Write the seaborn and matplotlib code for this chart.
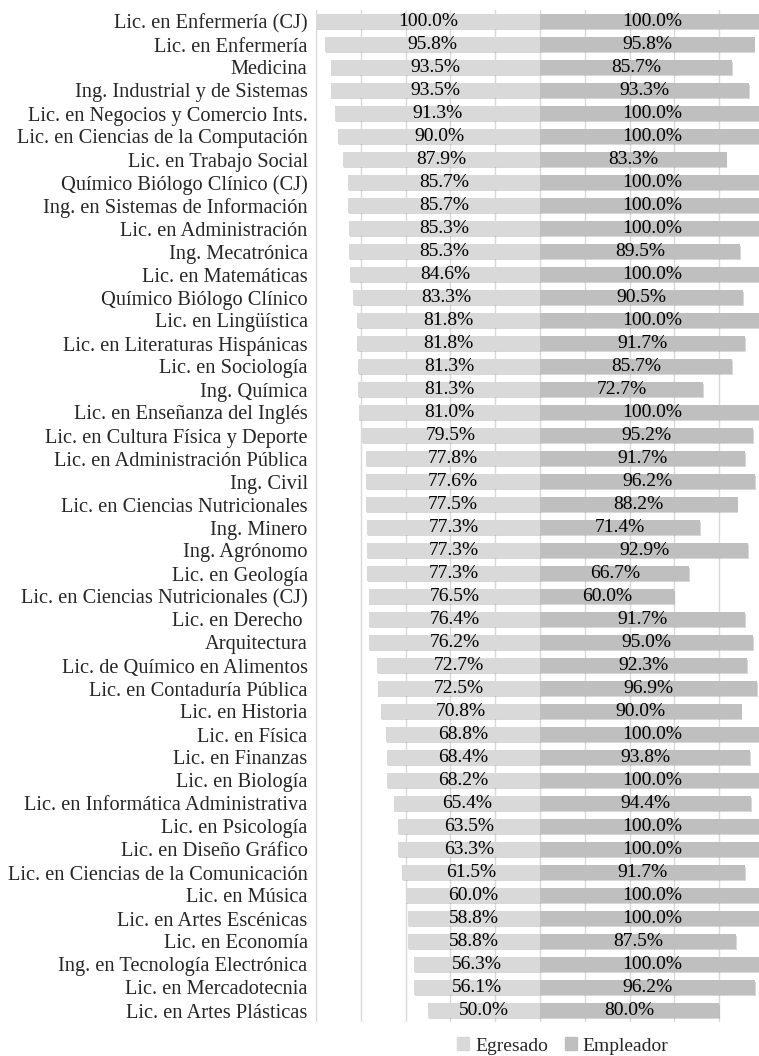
import matplotlib
matplotlib.use("Agg")
import matplotlib.pyplot as plt
import matplotlib.patheffects as pe
from matplotlib.patches import Patch
import seaborn as sns
import pandas as pd

carreras = [
    "Lic. en Enfermería (CJ)", "Lic. en Enfermería", "Medicina",
    "Ing. Industrial y de Sistemas", "Lic. en Negocios y Comercio Ints.",
    "Lic. en Ciencias de la Computación", "Lic. en Trabajo Social",
    "Químico Biólogo Clínico (CJ)", "Ing. en Sistemas de Información",
    "Lic. en Administración", "Ing. Mecatrónica", "Lic. en Matemáticas",
    "Químico Biólogo Clínico", "Lic. en Lingüística",
    "Lic. en Literaturas Hispánicas", "Lic. en Sociología", "Ing. Química",
    "Lic. en Enseñanza del Inglés", "Lic. en Cultura Física y Deporte",
    "Lic. en Administración Pública", "Ing. Civil",
    "Lic. en Ciencias Nutricionales", "Ing. Minero", "Ing. Agrónomo",
    "Lic. en Geología", "Lic. en Ciencias Nutricionales (CJ)",
    "Lic. en Derecho ", "Arquitectura", "Lic. de Químico en Alimentos",
    "Lic. en Contaduría Pública", "Lic. en Historia", "Lic. en Física",
    "Lic. en Finanzas", "Lic. en Biología",
    "Lic. en Informática Administrativa", "Lic. en Psicología",
    "Lic. en Diseño Gráfico", "Lic. en Ciencias de la Comunicación",
    "Lic. en Música", "Lic. en Artes Escénicas", "Lic. en Economía",
    "Ing. en Tecnología Electrónica", "Lic. en Mercadotecnia",
    "Lic. en Artes Plásticas",
]
egresado = [100.0, 95.8, 93.5, 93.5, 91.3, 90.0, 87.9, 85.7, 85.7, 85.3,
            85.3, 84.6, 83.3, 81.8, 81.8, 81.3, 81.3, 81.0, 79.5, 77.8,
            77.6, 77.5, 77.3, 77.3, 77.3, 76.5, 76.4, 76.2, 72.7, 72.5,
            70.8, 68.8, 68.4, 68.2, 65.4, 63.5, 63.3, 61.5, 60.0, 58.8,
            58.8, 56.3, 56.1, 50.0]
empleador = [100.0, 95.8, 85.7, 93.3, 100.0, 100.0, 83.3, 100.0, 100.0, 100.0,
             89.5, 100.0, 90.5, 100.0, 91.7, 85.7, 72.7, 100.0, 95.2, 91.7,
             96.2, 88.2, 71.4, 92.9, 66.7, 60.0, 91.7, 95.0, 92.3, 96.9,
             90.0, 100.0, 93.8, 100.0, 94.4, 100.0, 100.0, 91.7, 100.0, 100.0,
             87.5, 100.0, 96.2, 80.0]

col_egr = "#d9d9d9"
col_emp = "#bfbfbf"

df = pd.DataFrame({"carrera": carreras, "egresado": egresado, "empleador": empleador})
df["egr_neg"] = -df["egresado"]

sns.set_style("white")
plt.rcParams["font.family"] = ["Liberation Serif", "DejaVu Serif"]

fig = plt.figure(figsize=(7.59, 10.56), dpi=100)
ax = fig.add_axes([316 / 759, 34 / 1056, 448 / 759, 1012 / 1056])

# sombra leve tipo Excel
sombra = [pe.SimplePatchShadow(offset=(0.6, -1.2), shadow_rgbFace="#7f7f7f", alpha=0.3), pe.Normal()]

sns.barplot(data=df, x="egr_neg", y="carrera", color=col_egr, width=0.62,
            orient="h", ax=ax, saturation=1, zorder=3)
sns.barplot(data=df, x="empleador", y="carrera", color=col_emp, width=0.62,
            orient="h", ax=ax, saturation=1, zorder=3)

for cont, vals in zip(ax.containers, [egresado, empleador]):
    for p in cont:
        p.set_linewidth(0)
        p.set_path_effects(sombra)
    ax.bar_label(cont, labels=[f"{v:.1f}%" for v in vals], label_type="center",
                 fontsize=14, color="black", zorder=4)

ax.set_xlim(-100, 100)
ax.set_ylim(len(carreras) - 0.5, -0.5)
ax.set_xticks(range(-100, 101, 20))
ax.set_xticklabels([])
ax.tick_params(axis="x", length=0)
ax.tick_params(axis="y", length=0, pad=6, labelsize=14.7)
ax.grid(axis="x", color="#d9d9d9", linewidth=1, zorder=0)
ax.set_axisbelow(True)
ax.set_xlabel("")
ax.set_ylabel("")
for s in ax.spines.values():
    s.set_visible(False)

handles = [Patch(color=col_egr, label="Egresado"), Patch(color=col_emp, label="Empleador")]
fig.legend(handles=handles, loc="center", bbox_to_anchor=(563 / 759, 1 - 1046 / 1056),
           ncol=2, frameon=False, fontsize=14, handlelength=0.6, handleheight=0.6,
           handletextpad=0.3, columnspacing=0.9)

fig.savefig("out.png", dpi=100)
